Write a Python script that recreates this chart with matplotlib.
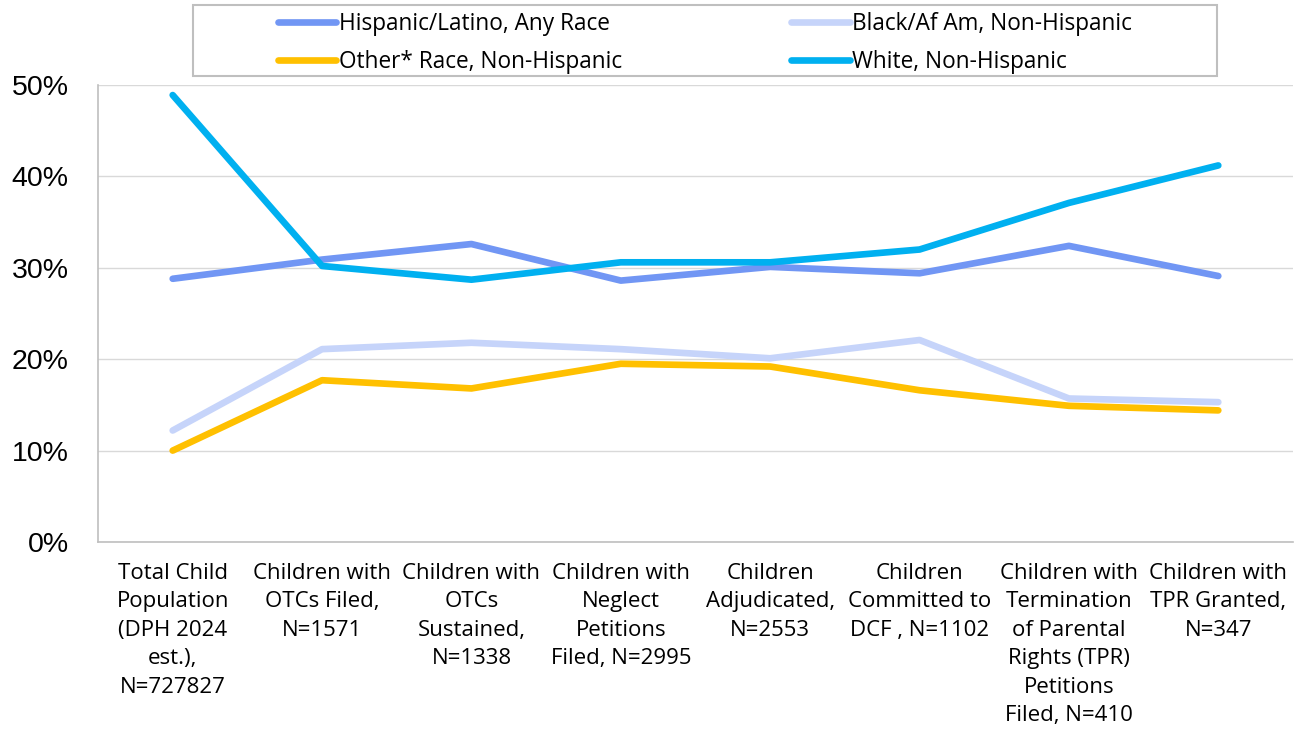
import matplotlib
matplotlib.use("Agg")
import matplotlib.pyplot as plt
from matplotlib.patches import Rectangle
from matplotlib.ticker import PercentFormatter, MultipleLocator

categories = [
    "Total Child\nPopulation\n(DPH 2024\nest.),\nN=727827",
    "Children with\nOTCs Filed,\nN=1571",
    "Children with\nOTCs\nSustained,\nN=1338",
    "Children with\nNeglect\nPetitions\nFiled, N=2995",
    "Children\nAdjudicated,\nN=2553",
    "Children\nCommitted to\nDCF , N=1102",
    "Children with\nTermination\nof Parental\nRights (TPR)\nPetitions\nFiled, N=410",
    "Children with\nTPR Granted,\nN=347",
]

hispanic = [0.288, 0.309, 0.326, 0.286, 0.301, 0.294, 0.324, 0.291]
black = [0.122, 0.211, 0.218, 0.211, 0.201, 0.221, 0.157, 0.153]
other = [0.100, 0.177, 0.168, 0.195, 0.192, 0.166, 0.149, 0.144]
white = [0.489, 0.302, 0.287, 0.306, 0.306, 0.320, 0.371, 0.412]

series_labels = [
    "Hispanic/Latino, Any Race",
    "Black/Af Am, Non-Hispanic",
    "Other* Race, Non-Hispanic",
    "White, Non-Hispanic",
]
colors = ["#7196F4", "#C6D4FA", "#FFC000", "#00B0F0"]

plt.rcParams["font.family"] = ["Liberation Sans", "DejaVu Sans"]
label_font = ["Open Sans", "DejaVu Sans"]

W, H = 1297, 731
fig = plt.figure(figsize=(W / 100, H / 100), dpi=100)
ax = fig.add_axes([98 / W, 1 - 542 / H, (1293 - 98) / W, (542 - 85) / H])

x = list(range(len(categories)))
lines = {}
for lab, vals, col in zip(series_labels, [hispanic, black, other, white], colors):
    (ln,) = ax.plot(x, vals, color=col, lw=4.8, solid_capstyle="round",
                    solid_joinstyle="round", label=lab)
    lines[lab] = ln

ax.set_xlim(-0.5, len(categories) - 0.5)
ax.set_ylim(0, 0.5)
ax.yaxis.set_major_locator(MultipleLocator(0.1))
ax.yaxis.set_major_formatter(PercentFormatter(1.0, decimals=0))
ax.set_xticks(x)
ax.set_xticklabels(categories, fontsize=16, linespacing=1.47, color="#000000",
                   family=label_font)
ax.tick_params(axis="y", length=0, pad=21, labelsize=20.5, labelcolor="#000000")
ax.tick_params(axis="x", length=0, pad=15)

ax.grid(axis="y", color="#D9D9D9", lw=1)
ax.set_axisbelow(True)
for side in ("top", "right"):
    ax.spines[side].set_visible(False)
for side in ("left", "bottom"):
    ax.spines[side].set_color("#BFBFBF")
    ax.spines[side].set_linewidth(1.2)

# legend frame
fig.patches.append(Rectangle((193 / W, 1 - 76 / H), (1217 - 193) / W, 71 / H,
                             transform=fig.transFigure, fill=False,
                             edgecolor="#BFBFBF", lw=1.5))
order = [series_labels[0], series_labels[2], series_labels[1], series_labels[3]]
leg = fig.legend([lines[k] for k in order], order, ncol=2, frameon=False,
                 loc="upper left", bbox_to_anchor=(278 / W, 1 - 12 / H),
                 borderaxespad=0, borderpad=0,
                 prop={"family": label_font, "size": 16.3},
                 handlelength=2.57, handletextpad=0.13, columnspacing=7.47,
                 labelspacing=0.62)

fig.savefig("out.png", dpi=100)
